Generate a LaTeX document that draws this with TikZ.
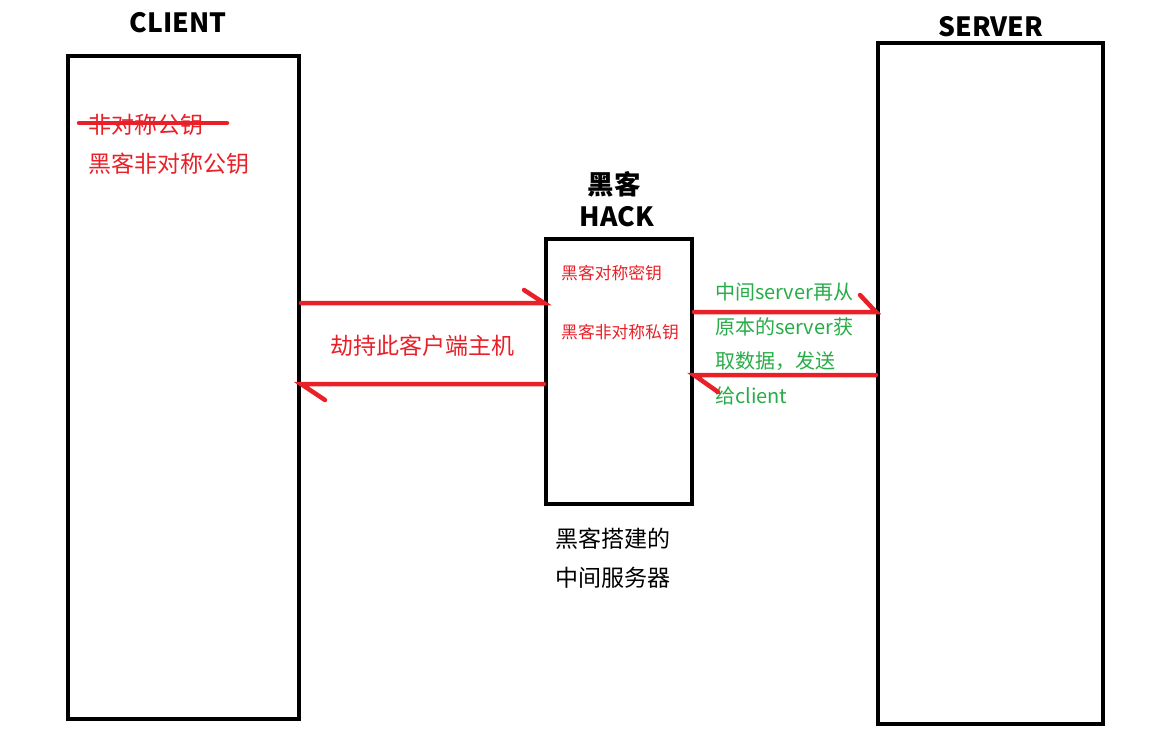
\documentclass[tikz,border=0pt]{standalone}
\usepackage{fontspec}
\setmainfont{Noto Sans CJK SC}
\usetikzlibrary{positioning}

\definecolor{paintred}{RGB}{232,32,40}
\definecolor{paintgreen}{RGB}{40,172,72}

\tikzset{
	hostbox/.style={draw,line width=4pt,inner sep=0pt},
	title/.style={font=\fontsize{26.5}{28}\selectfont\bfseries},
	redtext/.style={text=paintred,font=\fontsize{23}{25}\selectfont,anchor=west,inner sep=0pt},
	keytext/.style={text=paintred,font=\fontsize{16.8}{18}\selectfont,anchor=west,inner sep=0pt},
	greentext/.style={text=paintgreen,font=\fontsize{20}{22}\selectfont,anchor=west,inner sep=0pt},
	blacktext/.style={font=\fontsize{23}{25}\selectfont,anchor=west,inner sep=0pt},
	redline/.style={draw=paintred,line width=4.5pt,line cap=round}
}

\begin{document}
\begin{tikzpicture}[x=1pt,y=-1pt]
	\useasboundingbox (0,0) rectangle (1172,736);

	% the three machines
	\node[hostbox,minimum width=231pt,minimum height=663pt] (client) at (183.5,387.5) {};
	\node[hostbox,minimum width=225pt,minimum height=681pt] (server) at (990.5,383.5) {};
	\node[hostbox,minimum width=146pt,minimum height=265pt] (hack) at (619,371.5) {};

	\node[title] (clientname) at (178,23) {CLIENT};
	\node[title] (servername) at (991,27) {SERVER};
	\node[title] (hackname) at (614,184) {黑客};
	\node[title] (hackname2) at (617,217) {HACK};

	% keys on the client
	\node[redtext] (oldkey) at (88,125) {非对称公钥};
	\draw[redline] (79,123) -- (227,123);
	\node[redtext] (fakekey) at (88,164) {黑客非对称公钥};

	% keys on the hack machine
	\node[keytext] (symkey) at (561,273) {黑客对称密钥};
	\node[keytext] (privkey) at (561,332) {黑客非对称私钥};

	\node[redtext] (hijack) at (330,346) {劫持此客户端主机};

	\node[greentext] (g1) at (715,292) {中间server再从};
	\node[greentext] (g2) at (715,327) {原本的server获};
	\node[greentext] (g3) at (715,361) {取数据，发送};
	\node[greentext] (g4) at (715,396) {给client};

	\node[blacktext] (built1) at (555,539) {黑客搭建的};
	\node[blacktext] (built2) at (555,578) {中间服务器};

	% connectors
	\coordinate (a1) at (hack.west |- 0,303);
	\coordinate (a2) at (client.east |- 0,384);
	\coordinate (a3) at (server.west |- 0,312);
	\coordinate (a4) at (hack.east |- 0,375);

	\draw[redline] (client.east |- a1) -- (a1) -- ++(-20,-13);
	\draw[redline] (hack.west |- a2) -- (a2) -- ++(24,16);
	\draw[redline] (hack.east |- a3) -- (a3) -- ++(-16,-17);
	\draw[redline] (server.west |- a4) -- (a4) -- ++(24,17);
\end{tikzpicture}
\end{document}
